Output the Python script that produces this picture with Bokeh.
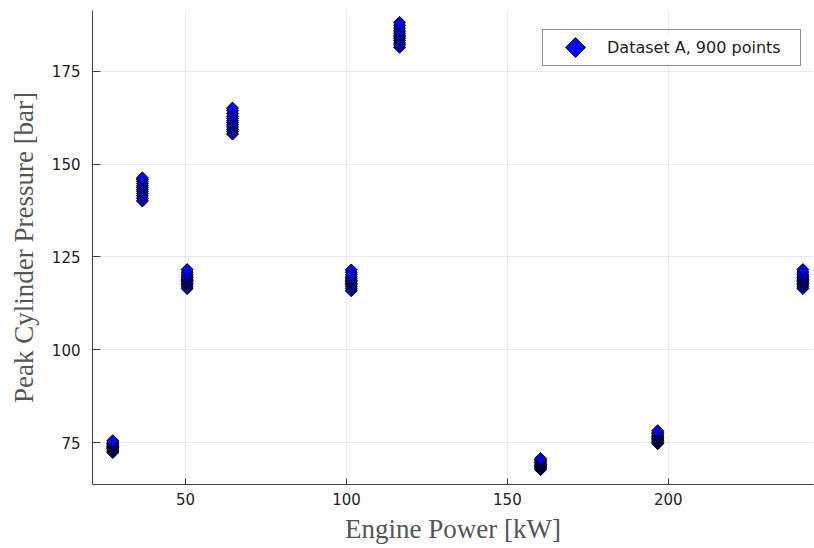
import math
from bokeh.plotting import figure
from bokeh.models import (ColumnDataSource, Range1d, Legend, LegendItem, FixedTicker,
                          BoxAnnotation)
from bokeh.embed import file_html
from bokeh.resources import INLINE

# Cluster positions (Engine Power, kW) and read-off pressures (bar)
power_kw = [27.4, 36.6, 50.5, 64.6, 101.5, 116.5, 160.3, 196.7, 241.8]
pressure_bar = [
    [72.3, 72.7, 73.0, 73.3, 73.5, 73.7, 73.9, 74.1, 74.4, 74.7, 75.1, 75.5],
    [140.1, 140.8, 141.5, 142.1, 142.7, 143.2, 143.7, 144.2, 144.8, 145.4, 145.9, 146.3],
    [116.5, 117.0, 117.5, 117.9, 118.3, 118.7, 119.0, 119.4, 119.8, 120.3, 120.9, 121.6],
    [158.1, 158.8, 159.4, 160.0, 160.6, 161.2, 161.7, 162.3, 162.9, 163.6, 164.4, 165.1],
    [115.9, 116.5, 117.0, 117.5, 117.9, 118.3, 118.7, 119.1, 119.6, 120.2, 120.9, 121.5],
    [181.5, 182.1, 182.7, 183.3, 183.8, 184.3, 184.8, 185.3, 185.9, 186.6, 187.4, 188.2],
    [67.7, 68.0, 68.3, 68.6, 68.8, 69.0, 69.2, 69.5, 69.8, 70.1, 70.4, 70.7],
    [74.7, 75.0, 75.3, 75.6, 75.9, 76.1, 76.4, 76.7, 77.0, 77.4, 77.8, 78.2],
    [116.5, 117.0, 117.5, 117.9, 118.3, 118.7, 119.0, 119.4, 119.8, 120.3, 120.9, 121.6],
]
x_ticks = [50, 100, 150, 200]
y_ticks = [75, 100, 125, 150, 175]
legend_label = "Dataset A, 900 points"

xs, ys = [], []
for xv, yl in zip(power_kw, pressure_bar):
    for yv in yl:
        xs.append(xv)
        ys.append(yv)
src = ColumnDataSource(dict(x=xs, y=ys))

W, H = 814, 548
BL, BR, BT, BB = 92, 1, 10, 64
xr = Range1d(21.1, 245.1)
yr = Range1d(63.7, 191.4)
fw, fh = W - BL - BR, H - BT - BB


def px2x(px):
    return xr.start + px / fw * (xr.end - xr.start)


def py2y(py):
    return yr.start + py / fh * (yr.end - yr.start)


p = figure(width=W, height=H, output_backend="svg", toolbar_location=None,
           x_range=xr, y_range=yr,
           min_border_left=BL, min_border_right=BR, min_border_top=BT, min_border_bottom=BB)
p.outline_line_color = None
p.background_fill_color = "white"
p.border_fill_color = "white"

p.scatter("x", "y", source=src, marker="square", angle=math.pi / 4, size=8.5,
          fill_color="#0000FF", line_color="black", line_width=1)

# legend-only renderer (invisible key; a diamond key is drawn in its slot)
dummy = p.scatter(x=[float("nan")], y=[float("nan")], marker="square",
                  fill_alpha=0, line_alpha=0)

for ax, ticks in ((p.xaxis[0], x_ticks), (p.yaxis[0], y_ticks)):
    ax.ticker = FixedTicker(ticks=ticks)
    ax.minor_tick_line_color = None
    ax.major_tick_out = 0
    ax.axis_line_color = "#444444"
    ax.major_tick_line_color = "#444444"
    ax.major_label_text_font = "DejaVu Sans"
    ax.major_label_text_font_size = "15px"
    ax.major_label_text_color = "#222222"
    ax.axis_label_text_font = "Liberation Serif"
    ax.axis_label_text_font_size = "27px"
    ax.axis_label_text_font_style = "normal"
    ax.axis_label_text_color = "#555555"

p.xaxis.axis_label = "Engine Power [kW]"
p.yaxis.axis_label = "Peak Cylinder Pressure [bar]"
p.xaxis.major_tick_in = 6
p.yaxis.major_tick_in = 8
p.xaxis.major_label_standoff = 8
p.yaxis.major_label_standoff = 12
p.xaxis.axis_label_standoff = 6
p.yaxis.axis_label_standoff = 10

p.grid.grid_line_color = "black"
p.grid.grid_line_alpha = 0.08

LEG_X, LEG_Y = 450, 418  # legend bottom-left, px from frame bottom-left
PAD, GW, GH, LW, LS = 8, 34, 17, 185, 22
legend = Legend(items=[LegendItem(label=legend_label, renderers=[dummy])],
                location=(LEG_X, LEG_Y))
legend.padding = PAD
legend.glyph_width = GW
legend.glyph_height = GH
legend.label_height = GH
legend.label_width = LW
legend.label_standoff = LS
legend.label_text_font = "DejaVu Sans"
legend.label_text_font_size = "16px"
legend.label_text_color = "#222222"
legend.border_line_color = "#222222"
legend.border_line_width = 1
legend.background_fill_alpha = 0
legend.margin = 0
p.add_layout(legend, "center")

# white legend background, drawn beneath the key (hides the grid inside the box)
leg_w = 2 * PAD + GW + LS + LW
leg_h = 2 * PAD + GH
bg = BoxAnnotation(left=px2x(LEG_X), right=px2x(LEG_X + leg_w),
                   bottom=py2y(LEG_Y), top=py2y(LEG_Y + leg_h),
                   fill_color="white", fill_alpha=1, line_alpha=0, level="underlay")
p.add_layout(bg)

# diamond legend key, 33 px in from the legend's left edge
KEY_DX, KEY_DY = 33, 19
p.scatter(x=[px2x(LEG_X + KEY_DX)], y=[py2y(LEG_Y + KEY_DY)],
          marker="square", angle=math.pi / 4, size=14,
          fill_color="#0000FF", line_color="black", line_width=1)

open("out.html", "w").write(file_html(p, INLINE))
